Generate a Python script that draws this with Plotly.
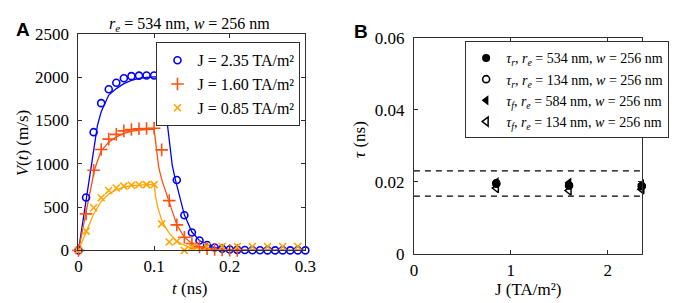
import plotly.graph_objects as go

# ---------------- Panel A data ----------------
t_blue = [0.00, 0.01, 0.02, 0.03, 0.04, 0.05, 0.06, 0.07, 0.08, 0.09, 0.10,
          0.11, 0.12, 0.13, 0.14, 0.15, 0.16, 0.17, 0.18, 0.19, 0.20,
          0.21, 0.22, 0.23, 0.24, 0.25, 0.26, 0.27, 0.28, 0.29, 0.30]
v_blue = [0, 610, 1365, 1700, 1860, 1935, 1987, 2012, 2018, 2020, 2020,
          2020, 1640, 812, 405, 207, 114, 62, 33, 18, 10,
          6, 4, 2, 1, 0, 0, 0, 0, 0, 0]

t_orange = [0.00, 0.01, 0.02, 0.03, 0.04, 0.05, 0.06, 0.07, 0.08, 0.09, 0.10,
            0.11, 0.12, 0.13, 0.14, 0.15, 0.16, 0.17, 0.18, 0.19, 0.20, 0.21]
v_orange = [0, 421, 925, 1165, 1285, 1339, 1380, 1395, 1405, 1408, 1410,
            1160, 575, 295, 151, 80, 40, 20, 10, 5, 2, 0]

t_yellow = [0.00, 0.01, 0.02, 0.03, 0.04, 0.05, 0.06, 0.07, 0.08, 0.09, 0.10,
            0.11, 0.12, 0.13, 0.14, 0.15, 0.17, 0.19, 0.21, 0.23, 0.25, 0.27, 0.29]
v_yellow = [0, 223, 493, 608, 691, 720, 742, 752, 758, 760, 760,
            306, 97, 105, 0, 40, 45, 45, 45, 45, 45, 45, 45]

# fitted curves
fit_t_blue = [0, 0.005, 0.01, 0.015, 0.018, 0.02, 0.025, 0.03, 0.04, 0.05, 0.06,
              0.07, 0.08, 0.09, 0.10, 0.1105, 0.116, 0.12, 0.124, 0.128, 0.1335,
              0.14, 0.15, 0.16, 0.17, 0.18, 0.19, 0.20, 0.22, 0.25, 0.30]
fit_v_blue = [0, 290, 580, 880, 1060, 1200, 1440, 1600, 1793, 1868, 1925,
              1962, 1987, 1998, 2005, 2008, 1570, 1270, 980, 820, 620,
              410, 212, 113, 62, 33, 17, 9, 3, 1, 0]

fit_t_orange = [0, 0.005, 0.0095, 0.015, 0.021, 0.025, 0.03, 0.04, 0.05, 0.06,
                0.07, 0.08, 0.09, 0.10, 0.102, 0.104, 0.106, 0.11, 0.115, 0.12,
                0.13, 0.14, 0.15, 0.16, 0.17, 0.18, 0.20, 0.22, 0.30]
fit_v_orange = [0, 215, 421, 680, 925, 1030, 1150, 1250, 1310, 1350,
                1375, 1390, 1398, 1400, 1250, 1100, 961, 820, 690, 575,
                295, 151, 80, 42, 22, 11, 3, 1, 0]

fit_t_yellow = [0, 0.005, 0.01, 0.02, 0.03, 0.04, 0.05, 0.06, 0.07, 0.08, 0.09,
                0.10, 0.102, 0.105, 0.11, 0.115, 0.12, 0.128, 0.136, 0.149,
                0.16, 0.18, 0.20, 0.30]
fit_v_yellow = [0, 110, 215, 420, 565, 650, 700, 730, 748, 756, 760,
                762, 620, 490, 350, 265, 200, 120, 75, 30,
                14, 4, 1, 0]

labels_A = ["J = 2.35 TA/m²", "J = 1.60 TA/m²", "J = 0.85 TA/m²"]

# ---------------- Panel B data ----------------
J = [0.85, 1.60, 2.35]
tau_r_534 = [0.0197, 0.0190, 0.0188]
tau_r_134 = [0.0195, 0.0190, 0.0189]
tau_f_584 = [0.0199, 0.0198, 0.0194]
tau_f_134 = [0.0183, 0.0176, 0.0180]
band_J = [0, 2.35]
band_hi = 0.0231
band_lo = 0.0161
labels_B = [
    "<i>τ<sub>r</sub></i>, <i>r<sub>e</sub></i> = 534 nm, <i>w</i> = 256 nm",
    "<i>τ<sub>r</sub></i>, <i>r<sub>e</sub></i> = 134 nm, <i>w</i> = 256 nm",
    "<i>τ<sub>f</sub></i>, <i>r<sub>e</sub></i> = 584 nm, <i>w</i> = 256 nm",
    "<i>τ<sub>f</sub></i>, <i>r<sub>e</sub></i> = 134 nm, <i>w</i> = 256 nm",
]

BLUE = "#0000ff"
ORANGE = "#ff5010"
YELLOW = "#ffa500"
SERIF = "Times New Roman, Liberation Serif, DejaVu Serif, serif"
SANS = "Arial, Liberation Sans, sans-serif"

fig = go.Figure()

# fitted lines (panel A)
for tt, vv, c in [(fit_t_blue, fit_v_blue, BLUE), (fit_t_orange, fit_v_orange, ORANGE),
                  (fit_t_yellow, fit_v_yellow, YELLOW)]:
    fig.add_trace(go.Scatter(x=tt, y=vv, mode="lines", line=dict(color=c, width=1.3),
                             showlegend=False, xaxis="x", yaxis="y", hoverinfo="skip"))

# markers (panel A)
fig.add_trace(go.Scatter(x=t_blue, y=v_blue, mode="markers", name=labels_A[0],
                         marker=dict(symbol="circle-open", size=7, color=BLUE, line=dict(width=1.6, color=BLUE)),
                         cliponaxis=False, xaxis="x", yaxis="y", legend="legend"))
fig.add_trace(go.Scatter(x=t_orange, y=v_orange, mode="markers", name=labels_A[1],
                         marker=dict(symbol="cross-thin-open", size=9, color=ORANGE, line=dict(width=1.6, color=ORANGE)),
                         cliponaxis=False, xaxis="x", yaxis="y", legend="legend"))
fig.add_trace(go.Scatter(x=t_yellow, y=v_yellow, mode="markers", name=labels_A[2],
                         marker=dict(symbol="x-thin-open", size=7, color=YELLOW, line=dict(width=1.6, color=YELLOW)),
                         cliponaxis=False, xaxis="x", yaxis="y", legend="legend"))

# panel B dashed band
for yv in [band_hi, band_lo]:
    fig.add_trace(go.Scatter(x=band_J, y=[yv, yv], mode="lines",
                             line=dict(color="black", width=1.2, dash="6px,5px"),
                             showlegend=False, xaxis="x2", yaxis="y2", hoverinfo="skip"))

fig.add_trace(go.Scatter(x=J, y=tau_r_534, mode="markers", name=labels_B[0],
                         marker=dict(symbol="circle", size=8, color="black"),
                         cliponaxis=False, xaxis="x2", yaxis="y2", legend="legend2"))
fig.add_trace(go.Scatter(x=J, y=tau_r_134, mode="markers", name=labels_B[1],
                         marker=dict(symbol="circle-open", size=7, color="black", line=dict(width=1.6, color="black")),
                         cliponaxis=False, xaxis="x2", yaxis="y2", legend="legend2"))
fig.add_trace(go.Scatter(x=J, y=tau_f_584, mode="markers", name=labels_B[2],
                         marker=dict(symbol="triangle-left", size=9, color="black"),
                         cliponaxis=False, xaxis="x2", yaxis="y2", legend="legend2"))
fig.add_trace(go.Scatter(x=J, y=tau_f_134, mode="markers", name=labels_B[3],
                         marker=dict(symbol="triangle-left-open", size=8, color="black", line=dict(width=1.5, color="black")),
                         cliponaxis=False, xaxis="x2", yaxis="y2", legend="legend2"))

W, H = 678, 303
def px_x(p):
    return p / W
def px_y(p):
    return 1 - p / H

axis_common = dict(showline=True, mirror="ticks", ticks="inside", ticklen=4, tickwidth=1,
                   linecolor="#303030", tickcolor="#303030", linewidth=1, showgrid=False,
                   zeroline=False, tickfont=dict(family=SERIF, size=17, color="black"))

fig.update_layout(
    width=W, height=H, margin=dict(l=0, r=0, t=0, b=0),
    paper_bgcolor="white", plot_bgcolor="white",
    font=dict(family=SERIF, color="black"),
    xaxis=dict(domain=[px_x(68), px_x(300)], range=[0, 0.3], tickvals=[0, 0.1, 0.2, 0.3],
               ticktext=["0", "0.1", "0.2", "0.3"], anchor="y", ticklabelstandoff=0, **axis_common),
    yaxis=dict(domain=[px_y(249), px_y(18)], range=[0, 2500], tickvals=[0, 500, 1000, 1500, 2000, 2500],
               anchor="x", ticklabelstandoff=5, **axis_common),
    xaxis2=dict(domain=[px_x(411), px_x(644)], range=[0, 2.35], tickvals=[0, 1, 2],
                anchor="y2", ticklabelstandoff=0, **axis_common),
    yaxis2=dict(domain=[px_y(253), px_y(22)], range=[0, 0.06], tickvals=[0, 0.02, 0.04, 0.06],
                ticktext=["0", "0.02", "0.04", "0.06"], anchor="x2", ticklabelstandoff=5, **axis_common),
    legend=dict(x=px_x(295), y=px_y(27), xanchor="right", yanchor="top", xref="paper", yref="paper",
                bgcolor="white", bordercolor="#303030", borderwidth=1,
                font=dict(family=SERIF, size=16, color="black"), itemwidth=30, tracegroupgap=0),
    legend2=dict(x=px_x(672), y=px_y(26), xanchor="right", yanchor="top", xref="paper", yref="paper",
                 bgcolor="white", bordercolor="#303030", borderwidth=1,
                 font=dict(family=SERIF, size=14, color="black"), itemwidth=30, tracegroupgap=0),
    showlegend=True,
)

ann = [
    dict(text="<b>A</b>", x=px_x(11.5), y=px_y(13.5), font=dict(family=SANS, size=19)),
    dict(text="<b>B</b>", x=px_x(356.5), y=px_y(15), font=dict(family=SANS, size=19)),
    dict(text="<i>r<sub>e</sub></i> = 534 nm, <i>w</i> = 256 nm", x=px_x(182), y=px_y(8),
         font=dict(family=SERIF, size=16)),
    dict(text="<i>V</i>(<i>t</i>) (m/s)", x=px_x(11), y=px_y(134), textangle=-90,
         font=dict(family=SERIF, size=17)),
    dict(text="<i>t</i> (ns)", x=px_x(182), y=px_y(290), font=dict(family=SERIF, size=17)),
    dict(text="<i>τ</i> (ns)", x=px_x(356), y=px_y(131), textangle=-90,
         font=dict(family=SERIF, size=17)),
    dict(text="J (TA/m²)", x=px_x(528), y=px_y(291), font=dict(family=SERIF, size=17)),
]
for a in ann:
    a.update(xref="paper", yref="paper", showarrow=False, xanchor="center", yanchor="middle")
    a["font"]["color"] = "black"
fig.update_layout(annotations=ann)

fig.write_html("out.html")
